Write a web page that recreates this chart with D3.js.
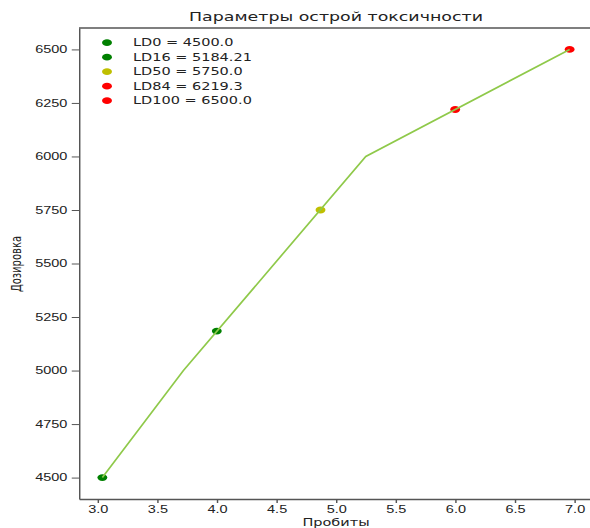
<!DOCTYPE html>
<html lang="ru">
<head>
<meta charset="UTF-8">
<title>Параметры острой токсичности</title>
<script src="https://cdn.jsdelivr.net/npm/d3@7"></script>
<style>
    body { margin: 0; background: #fff; }
    svg { display: block; font-family: "DejaVu Sans", sans-serif; }
    .axis path, .axis line { stroke: #555; }
    .axis text { fill: #222; font-size: 10px; }
</style>
</head>
<body>
<svg width="590" height="528"></svg>
<script>
    // polyline data: probit vs dose
    var probits = [3.04, 3.72, 5.25, 6.96];
    var doses = [4500, 5000, 6000, 6500];

    // LD points
    var ldNames = ["LD0", "LD16", "LD50", "LD84", "LD100"];
    var ldProbits = [3.04, 4.0, 4.87, 6.0, 6.96];
    var ldDoses = [4500, 5184.21, 5750, 6219.3, 6500];
    var ldColors = ["#008000", "#008000", "#bfbf00", "#ff0000", "#ff0000"];

    var xTicks = [3.0, 3.5, 4.0, 4.5, 5.0, 5.5, 6.0, 6.5, 7.0];
    var yTicks = [4500, 4750, 5000, 5250, 5500, 5750, 6000, 6250, 6500];

    // the picture is stretched horizontally
    var sx = 1.45;
    var plotLeft = 79, plotRight = 594, plotTop = 28, plotBottom = 499;

    var svg = d3.select("svg");
    var g = svg.append("g").attr("transform", "scale(" + sx + ",1)");

    var x = d3.scaleLinear().domain([2.844, 7.156]).range([plotLeft / sx, 593 / sx]);
    var y = d3.scaleLinear().domain([4400, 6600]).range([plotBottom, plotTop]);

    function fmt(v) { return Number.isInteger(v) ? v.toFixed(1) : String(v); }

    // dots first, line drawn on top
    g.selectAll(".dot")
        .data(ldProbits)
        .enter()
        .append("circle")
        .attr("cx", function (d) { return x(d); })
        .attr("cy", function (d, i) { return y(ldDoses[i]); })
        .attr("r", 3.4)
        .attr("fill", function (d, i) { return ldColors[i]; });

    var line = d3.line()
        .x(function (d) { return x(d); })
        .y(function (d, i) { return y(doses[i]); });

    g.append("path")
        .datum(probits)
        .attr("d", line)
        .attr("fill", "none")
        .attr("stroke", "#8fc94a")
        .attr("stroke-width", 1.7)
        .attr("vector-effect", "non-scaling-stroke");

    // axes
    g.append("g")
        .attr("class", "axis")
        .attr("transform", "translate(0," + plotBottom + ")")
        .call(d3.axisBottom(x).tickValues(xTicks).tickFormat(d3.format(".1f")).tickSizeInner(4).tickSizeOuter(0).tickPadding(3))
        .call(function (a) { a.select(".domain").attr("stroke-width", 1.3).attr("vector-effect", "non-scaling-stroke"); });

    g.append("g")
        .attr("class", "axis")
        .attr("transform", "translate(" + (plotLeft / sx) + ",0)")
        .call(d3.axisLeft(y).tickValues(yTicks).tickFormat(d3.format("d")).tickSizeInner(5).tickSizeOuter(0).tickPadding(3))
        .call(function (a) { a.select(".domain").attr("stroke-width", 1.0); });

    // top spine (right spine falls outside the picture)
    g.append("line")
        .attr("x1", plotLeft / sx).attr("x2", plotRight / sx)
        .attr("y1", plotTop).attr("y2", plotTop)
        .attr("stroke", "#555").attr("stroke-width", 1.3)
        .attr("vector-effect", "non-scaling-stroke");

    // title and labels
    g.append("text")
        .attr("x", (79 + 593) / 2 / sx)
        .attr("y", 21.5)
        .attr("text-anchor", "middle")
        .style("font-size", "12px")
        .attr("fill", "#222")
        .text("Параметры острой токсичности");

    g.append("text")
        .attr("x", (79 + 593) / 2 / sx)
        .attr("y", 526.5)
        .attr("text-anchor", "middle")
        .style("font-size", "10px")
        .attr("fill", "#222")
        .text("Пробиты");

    g.append("text")
        .attr("transform", "translate(" + (20.5 / sx) + "," + 264 + ") rotate(-90)")
        .attr("text-anchor", "middle")
        .style("font-size", "10px")
        .attr("fill", "#222")
        .text("Дозировка");

    // legend
    var legend = g.selectAll(".legend")
        .data(ldNames)
        .enter()
        .append("g")
        .attr("transform", function (d, i) { return "translate(0," + (42.7 + i * 14.5) + ")"; });

    legend.append("circle")
        .attr("cx", 107 / sx)
        .attr("cy", 0)
        .attr("r", 3.4)
        .attr("fill", function (d, i) { return ldColors[i]; });

    legend.append("text")
        .attr("x", 133 / sx)
        .attr("dy", "0.36em")
        .style("font-size", "10px")
        .attr("fill", "#222")
        .text(function (d, i) { return d + " = " + fmt(ldDoses[i]); });
</script>
</body>
</html>
